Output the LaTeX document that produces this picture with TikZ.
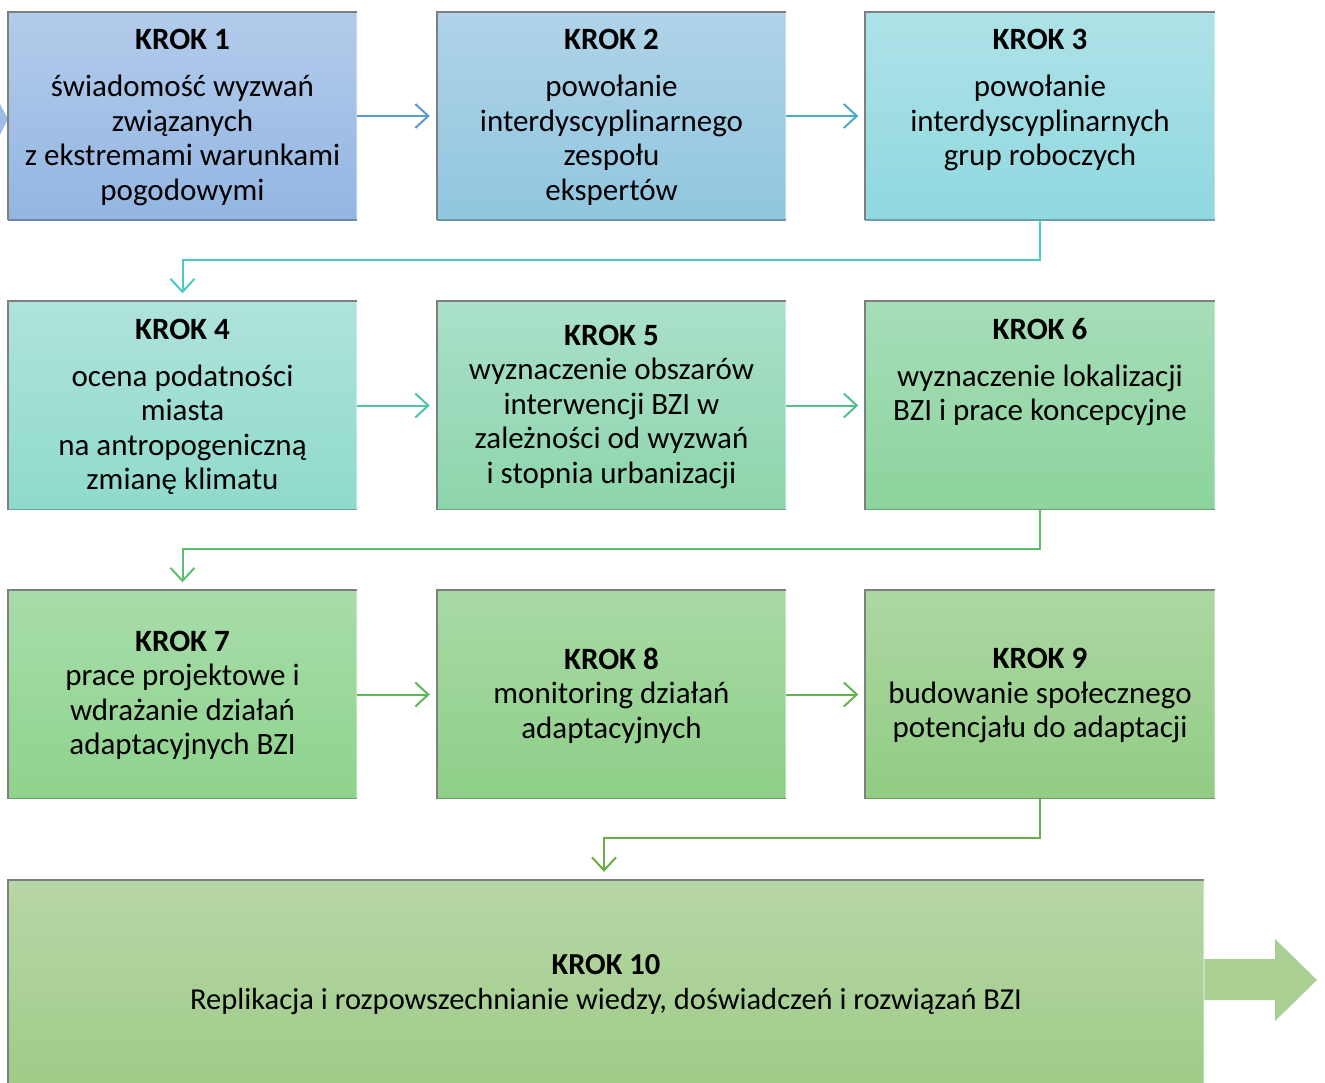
\documentclass[tikz,border=0pt]{standalone}
\usepackage{fontspec}
\setmainfont{Carlito}
\usetikzlibrary{arrows.meta}
\definecolor{c1t}{HTML}{B3CBEB}\definecolor{c1b}{HTML}{93B6E2}
\definecolor{c2t}{HTML}{B0D3E8}\definecolor{c2b}{HTML}{90C6DF}
\definecolor{c3t}{HTML}{AEE2E8}\definecolor{c3b}{HTML}{90D8DF}
\definecolor{c4t}{HTML}{AFE3DC}\definecolor{c4b}{HTML}{8FDACB}
\definecolor{c5t}{HTML}{AAE0CA}\definecolor{c5b}{HTML}{8DD5AB}
\definecolor{c6t}{HTML}{A6DDB9}\definecolor{c6b}{HTML}{8CD49C}
\definecolor{c7t}{HTML}{A8DCAA}\definecolor{c7b}{HTML}{8ED38C}
\definecolor{c8t}{HTML}{A8D9A5}\definecolor{c8b}{HTML}{8ECF88}
\definecolor{c9t}{HTML}{ACD7A2}\definecolor{c9b}{HTML}{92CC84}
\definecolor{c10t}{HTML}{B7D7A6}\definecolor{c10b}{HTML}{9FCB88}
\definecolor{a1}{HTML}{5B9BD5}
\definecolor{a2}{HTML}{4BACC6}
\definecolor{a3}{HTML}{4CC9C4}
\definecolor{a4}{HTML}{4EC4A8}
\definecolor{a5}{HTML}{52C18C}
\definecolor{a6}{HTML}{5BBE6C}
\definecolor{a7}{HTML}{5EB85A}
\definecolor{a8}{HTML}{62B452}
\definecolor{a9}{HTML}{6AAE48}
\definecolor{bigarrow}{HTML}{A9CF93}
\definecolor{leftarrow}{HTML}{9DBDE6}
\definecolor{edgegray}{HTML}{7F7F7F}
\tikzset{
  stepbox/.style={rectangle, inner sep=0pt, minimum width=349pt, minimum height=208pt,
    align=center, text=black, font=\fontsize{31}{34.5}\selectfont},
  steptext/.style={inner sep=0pt, align=center, text=black, font=\fontsize{31}{34.5}\selectfont},
  conn/.style={line width=2pt, -{Straight Barb[length=13pt,width=24pt,line width=2pt]}},
  edgeline/.style={edgegray, line width=2pt},
  lowedge/.style={line width=1.5pt},
  hiedge/.style={line width=2pt, white, opacity=0.35}
}
\begin{document}
\begin{tikzpicture}[x=1pt,y=-1pt]
\useasboundingbox (0,0) rectangle (1325,1083);
\fill[white] (0,0) rectangle (1325,1083);
% left arrow tip entering from outside
\fill[leftarrow] (0,104) -- (8,119) -- (0,135) -- cycle;
% big arrow out of step 10
\fill[bigarrow] (1200,959) -- (1275,959) -- (1275,939) -- (1317,980) -- (1275,1021) -- (1275,1000) -- (1200,1000) -- cycle;

% boxes
\node[stepbox, top color=c1t, bottom color=c1b] (k1) at (182.5,116) {};
\node[steptext] (t1) at (182.5,117.5)
  {\textbf{KROK 1}\\[12.5pt]świadomość wyzwań\\związanych\\z ekstremami warunkami\\pogodowymi};
\node[stepbox, top color=c2t, bottom color=c2b] (k2) at (611.5,116) {};
\node[steptext] (t2) at (611.5,117.5)
  {\textbf{KROK 2}\\[12.5pt]powołanie\\interdyscyplinarnego\\zespołu\\ekspertów};
\node[stepbox, top color=c3t, bottom color=c3b] (k3) at (1040,116) {};
\node[steptext] (t3) at (1040,100.5)
  {\textbf{KROK 3}\\[12.5pt]powołanie\\interdyscyplinarnych\\grup roboczych};
\node[stepbox, top color=c4t, bottom color=c4b] (k4) at (182.5,405.5) {};
\node[steptext] (t4) at (182.5,407)
  {\textbf{KROK 4}\\[12.5pt]ocena podatności\\miasta\\na antropogeniczną\\zmianę klimatu};
\node[stepbox, top color=c5t, bottom color=c5b] (k5) at (611.5,405.5) {};
\node[steptext] (t5) at (611.5,406.5)
  {\textbf{KROK 5}\\wyznaczenie obszarów\\interwencji BZI w\\zależności od wyzwań\\i stopnia urbanizacji};
\node[stepbox, top color=c6t, bottom color=c6b] (k6) at (1040,405.5) {};
\node[steptext] (t6) at (1040,372)
  {\textbf{KROK 6}\\[12.5pt]wyznaczenie lokalizacji\\BZI i prace koncepcyjne};
\node[stepbox, top color=c7t, bottom color=c7b] (k7) at (182.5,694.5) {};
\node[steptext] (t7) at (182.5,695.5)
  {\textbf{KROK 7}\\prace projektowe i\\wdrażanie działań\\adaptacyjnych BZI};
\node[stepbox, top color=c8t, bottom color=c8b] (k8) at (611.5,694.5) {};
\node[steptext] (t8) at (611.5,695.5)
  {\textbf{KROK 8}\\monitoring działań\\adaptacyjnych};
\node[stepbox, top color=c9t, bottom color=c9b] (k9) at (1040,694.5) {};
\node[steptext] (t9) at (1040,695.5)
  {\textbf{KROK 9}\\budowanie społecznego\\potencjału do adaptacji};
\node[stepbox, minimum width=1196pt, minimum height=207pt, top color=c10t, bottom color=c10b] (k10) at (606,983.5) {};
\node[steptext, font=\fontsize{30.5}{34.5}\selectfont] (t10) at (606,984.5)
  {\textbf{KROK 10}\\Replikacja i rozpowszechnianie wiedzy, doświadczeń i rozwiązań BZI};

% box edges (shadowed left/top, lighter right)
\foreach \k/\b in {k1/c1b,k2/c2b,k3/c3b,k4/c4b,k5/c5b,k6/c6b,k7/c7b,k8/c8b,k9/c9b}{
  \draw[lowedge, \b!75!black] (\k.south west) -- (\k.south east);
  \draw[hiedge] ([yshift=-1pt]\k.north east) -- ([yshift=1pt]\k.south east);
  \draw[edgeline] (\k.south west) -- (\k.north west) -- (\k.north east);
}
\draw[hiedge] ([yshift=-1pt]k10.north east) -- (k10.south east);
\draw[edgeline] (k10.south west) -- (k10.north west) -- (k10.north east);

% connectors
\draw[conn, a1] (k1.east) -- ([xshift=-7pt]k2.west);
\draw[conn, a2] (k2.east) -- ([xshift=-7pt]k3.west);
\coordinate (b34a) at (1040,260);
\coordinate (b34b) at (182.5,260);
\draw[conn, a3] (k3.south) -- (b34a) -- (b34b) -- ([yshift=8pt]k4.north);
\draw[conn, a4] (k4.east) -- ([xshift=-7pt]k5.west);
\draw[conn, a5] (k5.east) -- ([xshift=-7pt]k6.west);
\coordinate (b67a) at (1040,549);
\coordinate (b67b) at (182.5,549);
\draw[conn, a6] (k6.south) -- (b67a) -- (b67b) -- ([yshift=8pt]k7.north);
\draw[conn, a7] (k7.east) -- ([xshift=-7pt]k8.west);
\draw[conn, a8] (k8.east) -- ([xshift=-7pt]k9.west);
\coordinate (b910a) at (1040,838);
\coordinate (b910b) at (604,838);
\draw[conn, a9] (k9.south) -- (b910a) -- (b910b) -- ([yshift=8pt]b910b |- k10.north);
\end{tikzpicture}
\end{document}
